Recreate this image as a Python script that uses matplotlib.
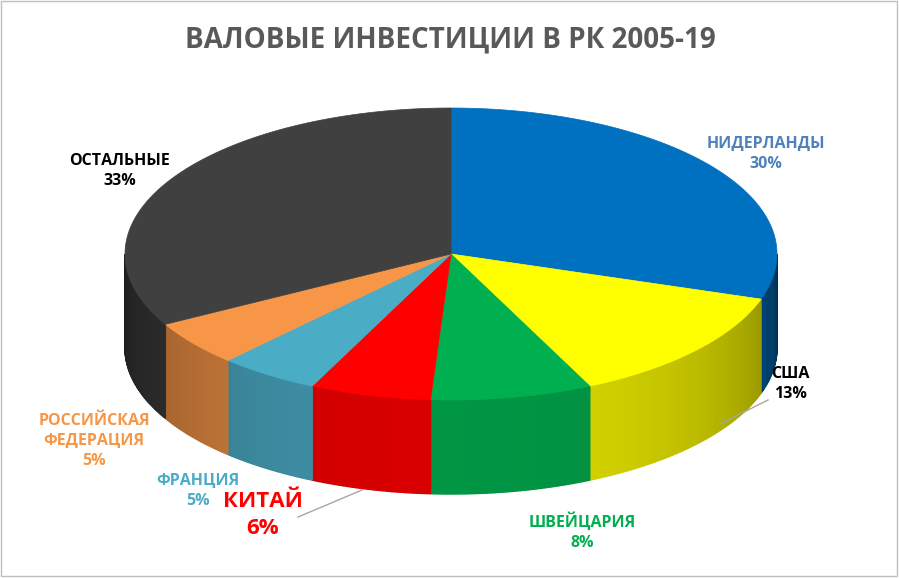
import numpy as np
import matplotlib
matplotlib.use("Agg")
import matplotlib.pyplot as plt
from matplotlib.patches import Polygon, Rectangle
import matplotlib.colors as mc

categories = ["НИДЕРЛАНДЫ", "США", "ШВЕЙЦАРИЯ", "КИТАЙ", "ФРАНЦИЯ", "РОССИЙСКАЯ\nФЕДЕРАЦИЯ", "ОСТАЛЬНЫЕ"]
values = [30, 13, 8, 6, 5, 5, 33]
colors = ["#0070C0", "#FFFF00", "#00B050", "#FF0000", "#4BACC6", "#F79646", "#404040"]
label_colors = ["#4F81BD", "#000000", "#00B050", "#FF0000", "#4BACC6", "#F79646", "#000000"]

W, H = 899, 578
fig = plt.figure(figsize=(W/100, H/100), dpi=100)
ax = fig.add_axes([0, 0, 1, 1])
ax.set_xlim(0, W); ax.set_ylim(H, 0); ax.axis("off")
fig.patch.set_facecolor("white")
ax.add_patch(Rectangle((1, 1), W-3, H-3, fill=False, ec="#BFBFBF", lw=1))

cx, cy, rx, ry, depth = 451, 254, 326, 146, 94

def pt(t, dy=0):
    r = np.radians(t)
    return cx + rx*np.cos(r), cy - ry*np.sin(r) + dy

total = sum(values)
bounds = []
a = 90.0
for v in values:
    b = a - 360*v/total
    bounds.append((b, a))
    a = b

# side walls (front half: angles 180..360)
for (lo, hi), c in zip(bounds, colors):
    base = np.array(mc.to_rgb(c))
    for k in range(-1, 2):
        l, h = max(lo, 180 + 360*k), min(hi, 360 + 360*k)
        if h <= l:
            continue
        ts = np.linspace(l, h, int((h - l)*2) + 2)
        for t0, t1 in zip(ts[:-1], ts[1:]):
            tm = (t0 + t1)/2
            shade = 0.45 + 0.4*np.clip(-np.sin(np.radians(tm)), 0, 1)**0.8
            col = np.clip(base*shade, 0, 1)
            p0, p1 = pt(t0), pt(t1)
            poly = [p0, p1, (p1[0], p1[1]+depth), (p0[0], p0[1]+depth)]
            ax.add_patch(Polygon(poly, closed=True, fc=col, ec=col, lw=1.0))

# top surface
for (lo, hi), c in zip(bounds, colors):
    ts = np.linspace(lo, hi, 200)
    pts = [(cx, cy)] + [pt(t) for t in ts]
    ax.add_patch(Polygon(pts, closed=True, fc=c, ec=c, lw=0.5))

ax.text(450, 40, "ВАЛОВЫЕ ИНВЕСТИЦИИ В РК 2005-19", ha="center", va="center",
        fontsize=20, fontweight="bold", color="#595959", family="Open Sans")

pos = [(766, 154), (790, 384), (582, 532), (263, 515), (198, 491), (94, 441), (120, 171)]
for i, (cat, v) in enumerate(zip(categories, values)):
    fs = 16 if i == 3 else 11.5
    ax.text(pos[i][0], pos[i][1], f"{cat}\n{v}%", ha="center", va="center",
            fontsize=fs, fontweight="bold", color=label_colors[i], family="Open Sans",
            linespacing=1.35)

ax.plot([720, 768], [424, 400], color="#A6A6A6", lw=1)
ax.plot([298, 362], [517, 490], color="#A6A6A6", lw=1)

fig.savefig("out.png", dpi=100)
